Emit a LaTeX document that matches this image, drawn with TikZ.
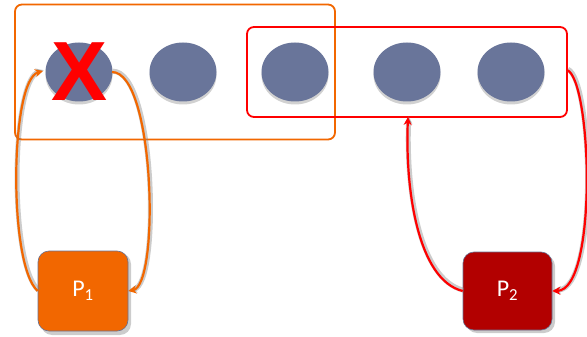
\documentclass[tikz,border=0pt]{standalone}
\usepackage{fontspec}
\setmainfont{Carlito}
\newfontfamily\xfont{Liberation Sans}
\usetikzlibrary{arrows.meta,shapes.geometric}
\definecolor{slate}{HTML}{69759A}
\definecolor{porange}{HTML}{F26700}
\definecolor{pred}{HTML}{B20000}
\definecolor{edgeblue}{HTML}{6A7090}
\tikzset{
  cell/.style={ellipse, fill=slate, minimum width=67pt, minimum height=59pt, inner sep=0pt},
  cellshadow/.style={ellipse, fill=black, opacity=0.18, minimum width=67pt, minimum height=59pt, inner sep=0pt},
  group/.style={draw, rounded corners=7pt, line width=1.8pt},
  proc/.style={rounded corners=11pt, minimum width=90pt, minimum height=80pt, inner sep=0pt,
    draw=edgeblue, line width=0.6pt, text=white, font=\fontsize{24}{24}\selectfont},
  link/.style={line width=2.2pt, -{Stealth[length=8pt,width=8pt]},
    preaction={draw=gray, opacity=0.4, line width=5pt, transform canvas={shift={(0.8pt,0.8pt)}}}},
}
\begin{document}
\begin{tikzpicture}[x=1pt,y=-1pt]
  \useasboundingbox (0,0) rectangle (587,337);
  \fill[white] (0,0) rectangle (587,337);

  % memory cells with soft shadows
  \foreach \i/\cx in {1/79,2/183,3/295,4/407,5/511}{
    \node[cellshadow] at (\cx,75) {};
    \node[cell] (e\i) at (\cx,72) {};
  }

  % the two groups of cells
  \node[group, draw=porange, minimum width=320pt, minimum height=135pt, inner sep=0pt] (g1) at (175,72) {};
  \node[group, draw=red, minimum width=320pt, minimum height=90pt, inner sep=0pt] (g2) at (407,72) {};

  % cell removed from the first group
  \node[text=red, font=\xfont\bfseries\fontsize{84}{84}\selectfont, inner sep=0pt] (x1) at (80,72) {X};

  % processes
  \fill[black, opacity=0.2, rounded corners=11pt] (41,253) rectangle (131,335);
  \node[proc, fill=porange] (p1) at (83,291) {\raisebox{-6pt}{P\textsubscript{1}}};
  \fill[black, opacity=0.2, rounded corners=11pt] (466,255) rectangle (555,333);
  \node[proc, fill=pred, minimum width=89pt, minimum height=78pt] (p2) at (507.5,291) {\raisebox{-6pt}{P\textsubscript{2}}};

  % links between processes and cells
  \coordinate (a1) at (43,71);
  \coordinate (b1) at (112,72);
  \draw[link, draw=porange] (p1.west) .. controls (8,265) and (10,80) .. (a1);
  \draw[link, draw=porange] (b1) .. controls (155,72) and (160,285) .. (p1.east);

  \coordinate (a2) at (408,117);
  \coordinate (b2) at (567,70);
  \draw[link, draw=red] (p2.west) .. controls (418,280) and (405,190) .. (a2);
  \draw[link, draw=red] (b2) .. controls (592,80) and (598,290) .. (p2.east);
\end{tikzpicture}
\end{document}
